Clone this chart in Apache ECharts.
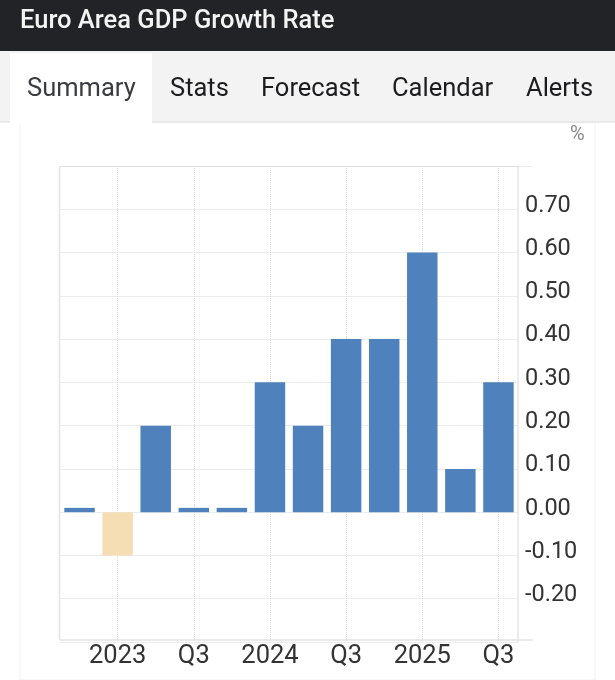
<!DOCTYPE html>
<html>
<head>
<meta charset="utf-8">
<style>html,body{margin:0;padding:0;background:#fff}#c{width:615px;height:680px}</style>
<script src="https://cdn.jsdelivr.net/npm/echarts@6/dist/echarts.min.js"></script>
</head>
<body>
<div id="c"></div>
<script>
const categories = ['2022 Q4','2023','Q2','Q3','Q4','2024','Q2','Q3','Q4','2025','Q2','Q3'];
const growth = [0.01,-0.1,0.2,0.01,0.01,0.3,0.2,0.4,0.4,0.6,0.1,0.3];
const title = 'Euro Area GDP Growth Rate';
const tabs = [['Summary',27,'#3a3c40'],['Stats',170,'#1c1c1e'],['Forecast',261,'#1c1c1e'],['Calendar',392,'#1c1c1e'],['Alerts',526,'#1c1c1e']];
const unit = '%';
const POS = '#4f81bd', NEG = '#f5deb3';
const chart = echarts.init(document.getElementById('c'), null, {renderer:'canvas'});
const showEven = i => i % 2 === 1;
const fontFamily = 'Roboto';
chart.setOption({
  animation:false,
  backgroundColor:'#fff',
  grid:{left:60.5,right:97.5,top:166,bottom:38},
  xAxis:{
    type:'category',data:categories,offset:-2,
    axisLine:{show:true,onZero:false,lineStyle:{color:'#e4e4e4',width:1.5}},
    axisTick:{show:false,alignWithLabel:true,interval:showEven},
    axisLabel:{interval:showEven,color:'#333',fontSize:25.5,fontFamily,margin:4,hideOverlap:false},
    splitLine:{show:true,alignWithLabel:true,interval:showEven,lineStyle:{color:'#dcdcdc',type:'dotted',width:1}}
  },
  yAxis:{
    type:'value',position:'right',min:-0.3,max:0.8,interval:0.1,
    axisLine:{show:true,lineStyle:{color:'#e6e6e6',width:1.5}},
    axisTick:{show:false},
    axisLabel:{color:'#333',fontSize:23.5,fontFamily,margin:7.5,verticalAlign:'bottom',lineHeight:7,
      formatter:v=>(Math.abs(v)>0.75||v<-0.25)?'':v.toFixed(2)},
    splitLine:{show:true,lineStyle:{color:'#d8d8d8',type:'dotted',width:1}}
  },
  series:[{
    type:'bar',barCategoryGap:'20%',
    data:growth.map(v=>({value:v,itemStyle:{color:v<0?NEG:POS}}))
  }],
  graphic:[
    {type:'rect',z:-1,silent:true,shape:{x:20,y:122,width:575,height:558},style:{fill:'#fff',stroke:'#f2f2f2',lineWidth:1}},
    {type:'rect',shape:{x:0,y:0,width:615,height:51},style:{fill:'#222327'}},
    {type:'rect',shape:{x:0,y:51,width:615,height:71},style:{fill:'#f3f3f4'}},
    {type:'line',shape:{x1:0,y1:122,x2:615,y2:122},style:{stroke:'#dcdcdc',lineWidth:1}},
    {type:'rect',shape:{x:10,y:53,width:142,height:70},style:{fill:'#fff'}},
    {type:'line',shape:{x1:59.5,y1:166.5,x2:59.5,y2:640},style:{stroke:'#e4e4e4',lineWidth:1.5}},
    {type:'line',shape:{x1:59.5,y1:166.5,x2:533,y2:166.5},style:{stroke:'#d8d8d8',lineDash:[1,1]}},
    {type:'line',shape:{x1:517,y1:640,x2:533,y2:640},style:{stroke:'#e4e4e4',lineWidth:1.5}},
    {type:'text',x:20,y:22,style:{text:title,fill:'#f4f4f4',font:'500 25.5px Roboto',verticalAlign:'middle'}},
    ...tabs.map(t=>({type:'text',x:t[1],y:90,style:{text:t[0],fill:t[2],font:'25.5px Roboto',verticalAlign:'middle'}})),
    {type:'text',x:570,y:135,style:{text:unit,fill:'#888',font:'20px Roboto',verticalAlign:'middle'}}
  ]
});
</script>
</body>
</html>
